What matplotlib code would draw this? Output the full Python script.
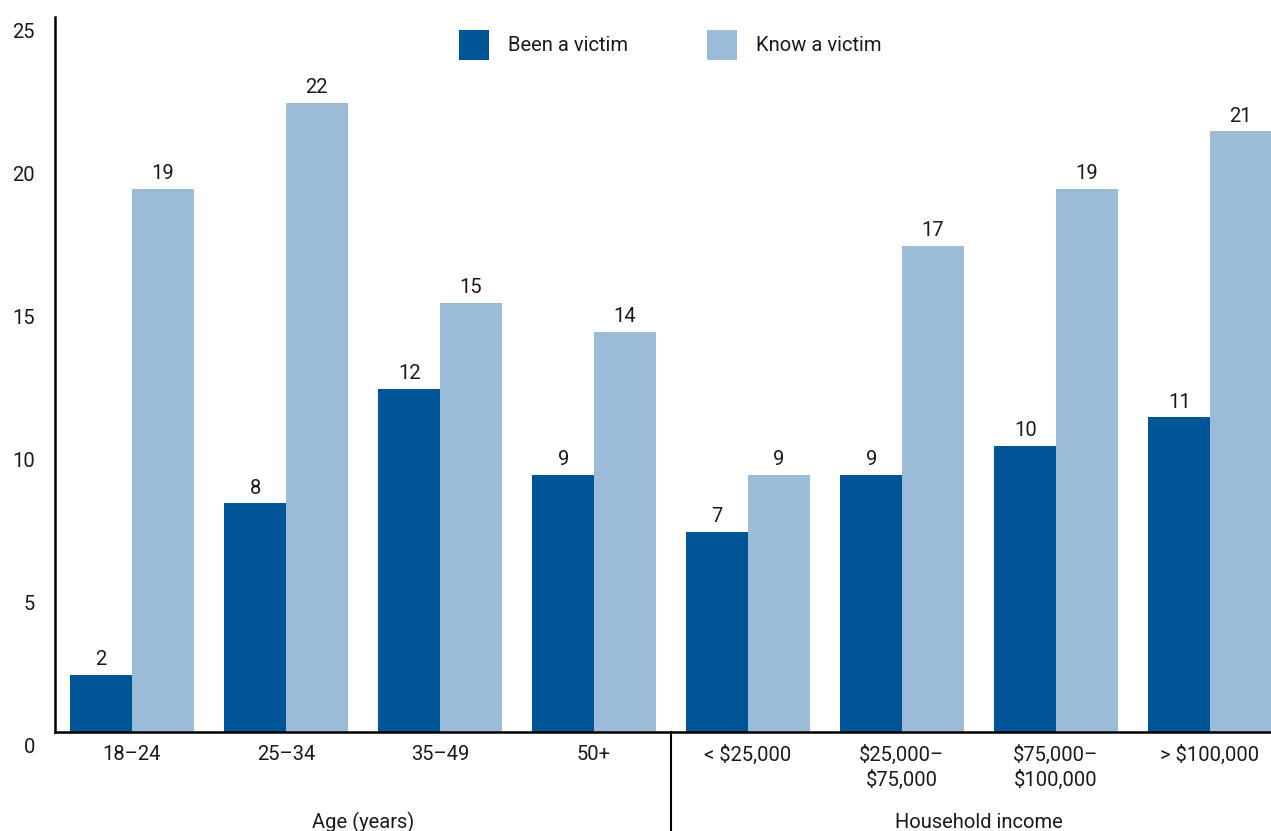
import matplotlib.pyplot as plt
import matplotlib.transforms as mtransforms
import numpy as np

# --- DATA ---
categories = ['18–24', '25–34', '35–49', '50+',
              '< $25,000', '$25,000–\n$75,000', '$75,000–\n$100,000', '> $100,000']
been_victim = [2, 8, 12, 9, 7, 9, 10, 11]
know_victim = [19, 22, 15, 14, 9, 17, 19, 21]
group_names = ['Age (years)', 'Household income']
group_sizes = [4, 4]
y_ticks = [0, 5, 10, 15, 20, 25]

DARK = '#005596'
LIGHT = '#9bbbd6'
TEXT = '#1a1a1a'
FS = 14.5

plt.rcParams['font.family'] = ['Roboto', 'DejaVu Sans']
plt.rcParams['font.weight'] = 'normal'
plt.rcParams['font.size'] = FS

fig = plt.figure(figsize=(12.71, 8.31), dpi=100)
ax = fig.add_axes([55 / 1271, 1 - 732 / 831, 1 - 55 / 1271, (732 - 17) / 831])

x = np.arange(len(categories))
w = 0.4
b1 = ax.bar(x - w / 2, been_victim, w, color=DARK, label='Been a victim')
b2 = ax.bar(x + w / 2, know_victim, w, color=LIGHT, label='Know a victim')

# value labels on top of bars
for bars, vals in ((b1, been_victim), (b2, know_victim)):
    for bar, v in zip(bars, vals):
        ax.annotate(f'{v}', xy=(bar.get_x() + bar.get_width() / 2, bar.get_height()),
                    xytext=(0, 4), textcoords='offset points',
                    ha='center', va='bottom', color=TEXT, fontsize=FS)

ax.set_xlim(-0.5, (1271 - 132) / 154)
ax.set_ylim(0, 25)

for s in ('top', 'right'):
    ax.spines[s].set_visible(False)
ax.spines['left'].set_linewidth(1.8)
ax.spines['bottom'].set_linewidth(1.8)

ax.set_xticks(x)
ax.set_xticklabels(categories, color=TEXT, linespacing=1.3)
ax.tick_params(axis='x', length=0, pad=9)

# y tick labels sit a bit below their tick
ax.set_yticks([])
shift = mtransforms.offset_copy(ax.get_yaxis_transform(), fig=fig, x=-20, y=-6, units='dots')
for t in y_ticks:
    ax.text(0, t, str(t), transform=shift, ha='right', va='top', color=TEXT, fontsize=FS)

# group labels and separator
start = -0.5
for name, n in zip(group_names, group_sizes):
    ax.annotate(name, xy=(start + n / 2, 0), xycoords=('data', 'axes fraction'),
                xytext=(0, -65), textcoords='offset points',
                ha='center', va='center', color=TEXT, fontsize=FS)
    start += n
ax.plot([3.5, 3.5], [0, -0.14], transform=ax.get_xaxis_transform(),
        color='black', lw=1.5, clip_on=False)

leg = ax.legend(loc='center', bbox_to_anchor=(670 / 1271, 1 - 45 / 831),
                bbox_transform=fig.transFigure, ncol=2, frameon=False,
                handlelength=1.5, handleheight=1.9, handletextpad=0.95,
                columnspacing=3.9, borderpad=0, fontsize=FS)
for t in leg.get_texts():
    t.set_color(TEXT)

plt.savefig('out.png', dpi=100)
